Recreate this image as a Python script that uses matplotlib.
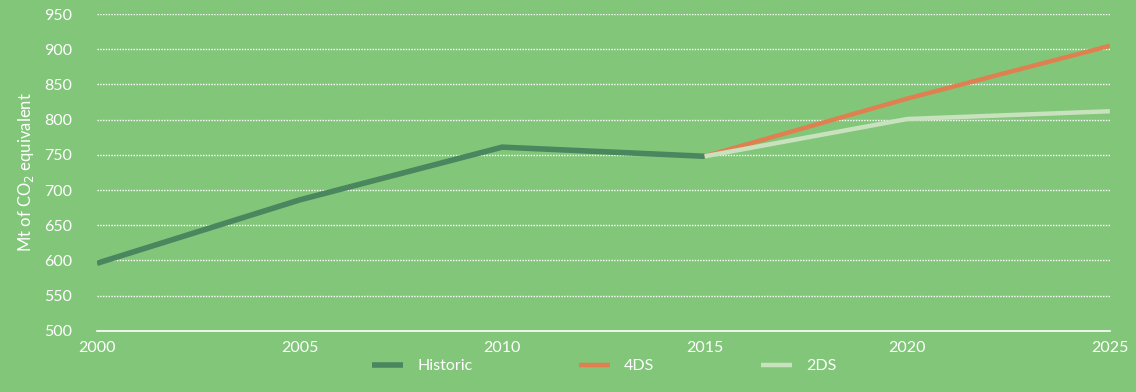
import matplotlib.pyplot as plt

# emissions, Mt CO2-eq
years_hist = [2000, 2005, 2010, 2015]
historic = [596, 686, 761, 748]
years_proj = [2015, 2020, 2025]
ds4 = [748, 830, 905]
ds2 = [748, 801, 812]

bg = '#82c67a'
plt.rcParams['font.family'] = ['Lato', 'DejaVu Sans']
fs = 11.5

fig = plt.figure(figsize=(11.36, 3.92), dpi=100, facecolor=bg)
ax = fig.add_axes([0.0854, 0.156, 0.8916, 0.808], facecolor=bg)

ax.plot(years_hist, historic, color='#4a865e', lw=4, label='Historic', solid_capstyle='butt')
ax.plot(years_proj, ds4, color='#e07f50', lw=3.2, label='4DS', solid_capstyle='butt')
ax.plot(years_proj, ds2, color='#c8e2bd', lw=3.2, label='2DS', solid_capstyle='butt')

ax.set_xlim(2000, 2025)
ax.set_ylim(500, 950)
ax.set_xticks(range(2000, 2026, 5))
ax.set_yticks(range(500, 951, 50))
ax.yaxis.grid(True, color='white', linestyle=(0, (1, 1)), lw=1)
ax.set_axisbelow(True)
for s in ['top', 'right', 'left']:
    ax.spines[s].set_visible(False)
ax.spines['bottom'].set_color('white')
ax.spines['bottom'].set_linewidth(1.2)
ax.tick_params(axis='y', length=0, pad=18, labelsize=fs, labelcolor='white')
ax.tick_params(axis='x', length=0, pad=7, labelsize=fs, labelcolor='white')
ax.set_ylabel('Mt of CO$_2$ equivalent', color='white', fontsize=fs + 0.5, labelpad=6)

fig.legend(loc='center', bbox_to_anchor=(0.532, 0.066), ncol=3, frameon=False,
           fontsize=fs, labelcolor='white', handlelength=1.9, handletextpad=0.9,
           columnspacing=6.7)

fig.savefig('out.png', dpi=100, facecolor=bg)
